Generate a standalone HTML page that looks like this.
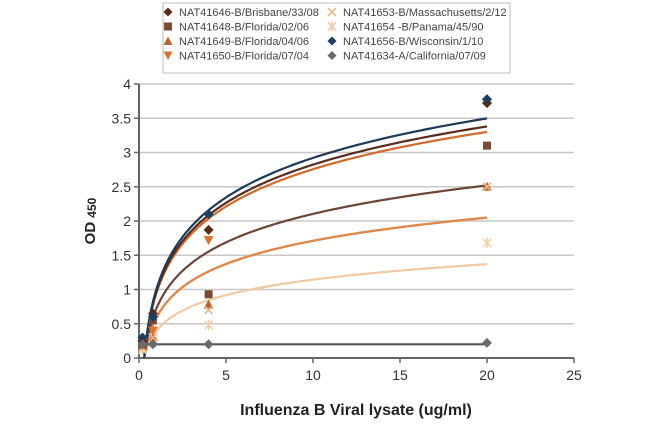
<!DOCTYPE html>
<html><head><meta charset="utf-8"><style>
body{margin:0;background:#fff;width:650px;height:422px;overflow:hidden;font-family:"Liberation Sans",sans-serif}
</style></head><body>
<svg id="chart" width="650" height="422" xmlns="http://www.w3.org/2000/svg" font-family="Liberation Sans, sans-serif">
<g id="grid"></g>
<g id="axes"></g>
<g id="curves"></g>
<g id="marks"></g>
<g id="legend"></g>
<text transform="translate(95,221) rotate(-90)" text-anchor="middle" font-size="15" font-weight="bold" fill="#222">OD <tspan font-size="12" dy="1">450</tspan></text>
<text x="356" y="415" text-anchor="middle" font-size="16" font-weight="bold" fill="#222">Influenza B Viral lysate (ug/ml)</text>
</svg>
<script>
const seriesNames=["NAT41646-B/Brisbane/33/08","NAT41648-B/Florida/02/06","NAT41649-B/Florida/04/06","NAT41650-B/Florida/07/04","NAT41653-B/Massachusetts/2/12","NAT41654 -B/Panama/45/90","NAT41656-B/Wisconsin/1/10","NAT41634-A/California/07/09"];
const concentrations=[0.2,0.8,4,20];
const valBrisbane=[0.25,0.65,1.87,3.72];
const valFlorida0206=[0.2,0.55,0.93,3.1];
const valFlorida0406=[0.18,0.3,0.78,2.5];
const valFlorida0704=[0.22,0.4,1.72,3.72];
const valMass=[0.15,0.3,0.7,2.5];
const valPanama=[0.12,0.25,0.48,1.68];
const valWisconsin=[0.3,0.6,2.1,3.78];
const valCalifornia=[0.2,0.2,0.2,0.22];
const fitA=[0.805,0.6,0.488,0.786,0.488,0.326,0.833,0];
const fitB=[0.969,0.722,0.587,0.946,0.587,0.393,1.003,0.2];
const yTicks=[0,0.5,1,1.5,2,2.5,3,3.5,4];
const xTicks=[0,5,10,15,20,25];
const colors=["#5b2a1a","#7a4a34","#b8652e","#d9732f","#e8b98c","#f0cfa8","#1d3f63","#6b6b6b"];
const curveColors=["#5a2c1e","#6b4535","#cf7a42","#d2692a","#e0874a","#f1c9a2","#1d3a5a","#555"];
const shapes=["diamond","square","triangle","tridown","x","star","diamond","diamond"];
const NS="http://www.w3.org/2000/svg";
const X=v=>139+v*17.4, Y=v=>358-v*68.5;
function mk(tag,attrs,parent){const e=document.createElementNS(NS,tag);for(const k in attrs)e.setAttribute(k,attrs[k]);parent.appendChild(e);return e;}
const grid=document.getElementById('grid'),axes=document.getElementById('axes'),curves=document.getElementById('curves'),marks=document.getElementById('marks'),legend=document.getElementById('legend');
yTicks.forEach(t=>{
 if(t>0){const l=mk('line',{x1:X(0),x2:X(25),y1:Y(t),y2:Y(t),stroke:'#c8c8c8','stroke-width':1.5},grid);
 
 }
 const tk=mk('line',{x1:X(0)-5,x2:X(0),y1:Y(t),y2:Y(t),stroke:'#666','stroke-width':1.5},axes);
 
 
 const tx=mk('text',{x:X(0)-8,y:Y(t)+5,'text-anchor':'end','font-size':14,fill:'#333'},axes);tx.textContent=t;
 
 
});
xTicks.forEach(t=>{
 const tk=mk('line',{x1:X(t),x2:X(t),y1:Y(0),y2:Y(0)+5,stroke:'#666','stroke-width':1.5},axes);
 
 
 const tx=mk('text',{x:X(t),y:Y(0)+22,'text-anchor':'middle','font-size':14,fill:'#333'},axes);tx.textContent=t;
 
 
});
const ya=mk('line',{x1:X(0),x2:X(0),y1:Y(0),y2:Y(4),stroke:'#666','stroke-width':2},axes);


const xa=mk('line',{x1:X(0),x2:X(25),y1:Y(0),y2:Y(0),stroke:'#666','stroke-width':2},axes);


const order=[5,2,4,1,3,0,6,7];
order.forEach(i=>{
 let d='';
 if(fitA[i]===0){d='M'+X(0)+','+Y(fitB[i])+'L'+X(20)+','+Y(fitB[i]);}
 else{let started=false;for(let k=0;k<=300;k++){const x=0.05*Math.pow(400,k/300);let y=fitA[i]*Math.log(x)+fitB[i];if(y<0)continue;d+=(started?'L':'M')+X(x).toFixed(2)+','+Y(y).toFixed(2);started=true;}}
 const p=mk('path',{d:d,fill:'none',stroke:curveColors[i],'stroke-width':2.2},curves);
 
 
});
function marker(shape,cx,cy,col,parent,s){
 s=s||5;let e;
 if(shape==='diamond')e=mk('polygon',{points:`${cx},${cy-s} ${cx+s},${cy} ${cx},${cy+s} ${cx-s},${cy}`,fill:col},parent);
 else if(shape==='square')e=mk('rect',{x:cx-4,y:cy-4,width:8,height:8,fill:col},parent);
 else if(shape==='triangle')e=mk('polygon',{points:`${cx},${cy-s} ${cx+s},${cy+4} ${cx-s},${cy+4}`,fill:col},parent);
 else if(shape==='tridown')e=mk('polygon',{points:`${cx-s},${cy-4} ${cx+s},${cy-4} ${cx},${cy+s}`,fill:col},parent);
 else if(shape==='x')e=mk('path',{d:`M${cx-4},${cy-4}L${cx+4},${cy+4}M${cx+4},${cy-4}L${cx-4},${cy+4}`,stroke:col,'stroke-width':1.6},parent);
 else e=mk('path',{d:`M${cx-4},${cy-4}L${cx+4},${cy+4}M${cx+4},${cy-4}L${cx-4},${cy+4}M${cx},${cy-5}L${cx},${cy+5}`,stroke:col,'stroke-width':1.6},parent);
 return e;
}
const allVals=[valBrisbane,valFlorida0206,valFlorida0406,valFlorida0704,valMass,valPanama,valWisconsin,valCalifornia];
order.forEach(i=>{allVals[i].forEach((v,j)=>{
 const e=marker(shapes[i],X(concentrations[j]),Y(v),colors[i],marks);
 
 
});});
const lb=mk('rect',{x:163,y:3,width:347,height:70,fill:'#fff',stroke:'#bbb','stroke-width':1},legend);


seriesNames.forEach((n,i)=>{
 const col=i<4?0:1,row=i%4;const lx=col?330:166,ly=16+row*14.5;
 const g=mk('g',{},legend);
 
 
 marker(shapes[i],lx+2,ly-4,colors[i],g,4.5);
 const t=mk('text',{x:lx+13,y:ly,'font-size':11,fill:'#444'},g);t.textContent=n;
});
</script>
</body></html>
